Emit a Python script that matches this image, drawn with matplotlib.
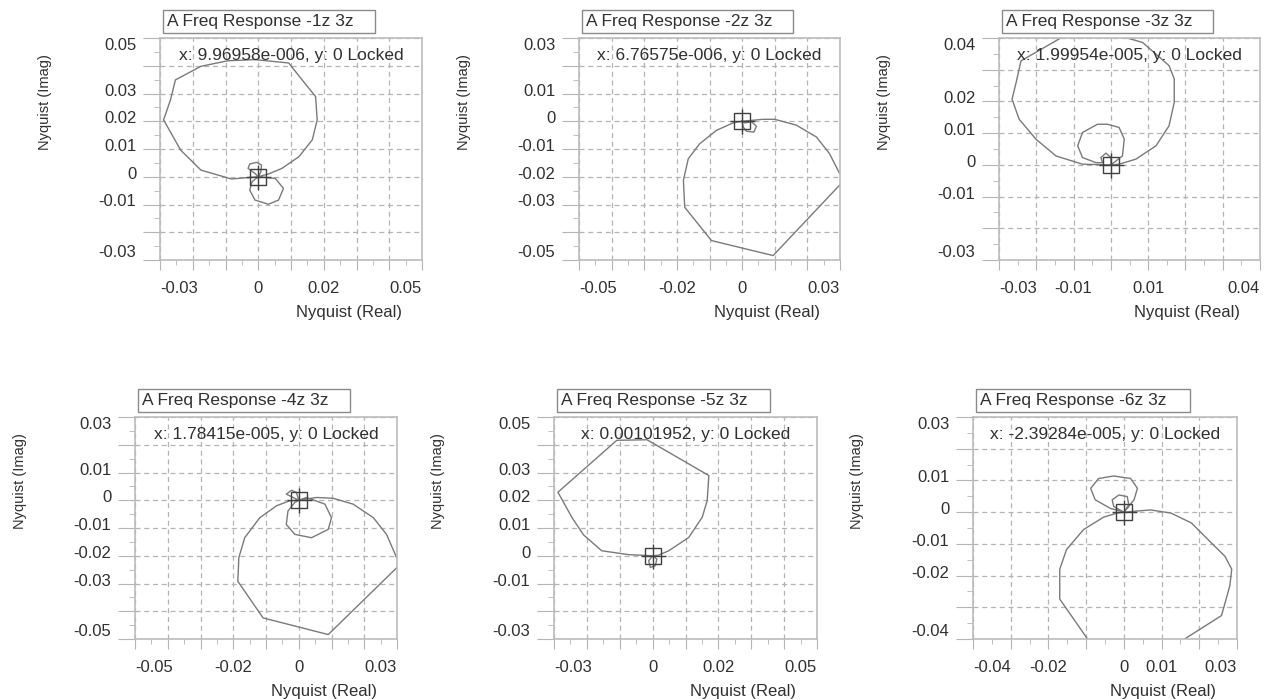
import numpy as np
import matplotlib
matplotlib.use("Agg")
import matplotlib.pyplot as plt
from matplotlib.patches import Rectangle
from matplotlib.ticker import FixedLocator, FixedFormatter, MultipleLocator
from matplotlib.transforms import ScaledTranslation

plt.rcParams["font.family"] = ["Liberation Sans", "DejaVu Sans"]

# Panel texts
titles = ["A Freq Response -1z 3z", "A Freq Response -2z 3z", "A Freq Response -3z 3z",
          "A Freq Response -4z 3z", "A Freq Response -5z 3z", "A Freq Response -6z 3z"]
cursor_texts = ["x: 9.96958e-006, y: 0 Locked", "x: 6.76575e-006, y: 0 Locked",
                "x: 1.99954e-005, y: 0 Locked", "x: 1.78415e-005, y: 0 Locked",
                "x: 0.00101952, y: 0 Locked", "x: -2.39284e-005, y: 0 Locked"]

# Axis ranges
xlims = [(-0.03, 0.05), (-0.05, 0.03), (-0.03, 0.04), (-0.05, 0.03), (-0.03, 0.05), (-0.04, 0.03)]
ylims = [(-0.03, 0.05), (-0.05, 0.03), (-0.03, 0.04), (-0.05, 0.03), (-0.03, 0.05), (-0.04, 0.03)]

# Labelled ticks
xtick_labels = [["-0.03", "0", "0.02", "0.05"], ["-0.05", "-0.02", "0", "0.03"],
                ["-0.03", "-0.01", "0.01", "0.04"], ["-0.05", "-0.02", "0", "0.03"],
                ["-0.03", "0", "0.02", "0.05"], ["-0.04", "-0.02", "0", "0.01", "0.03"]]
ytick_labels = [["0.05", "0.03", "0.02", "0.01", "0", "-0.01", "-0.03"],
                ["0.03", "0.01", "0", "-0.01", "-0.02", "-0.03", "-0.05"],
                ["0.04", "0.02", "0.01", "0", "-0.01", "-0.03"],
                ["0.03", "0.01", "0", "-0.01", "-0.02", "-0.03", "-0.05"],
                ["0.05", "0.03", "0.02", "0.01", "0", "-0.01", "-0.03"],
                ["0.03", "0.01", "0", "-0.01", "-0.02", "-0.04"]]

# Nyquist curves (real, imag)
re1 = [0, -0.0082, -0.0175, -0.0237, -0.0289, -0.0268, -0.0253, -0.0175, -0.0093, -0.001, 0.0093,
       0.0134, 0.0175, 0.018, 0.0165, 0.0124, 0.0072, 0.0031, 0, -0.001, -0.0031, -0.0026, -0.0005,
       0.001, 0.0008, 0, 0.0052, 0.0077, 0.0062, 0.0031, -0.001, -0.0026, -0.0019, 0]
im1 = [0, -0.0008, 0.0024, 0.0096, 0.0205, 0.0277, 0.0349, 0.0398, 0.0418, 0.0422, 0.041,
       0.0349, 0.0289, 0.0205, 0.0133, 0.0072, 0.003, 0.001, 0, 0.0012, 0.003, 0.0046, 0.0052,
       0.0042, 0.0018, 0, -0.0006, -0.0042, -0.0084, -0.0099, -0.0084, -0.0048, -0.0018, 0]

re2 = [0, 0.0064, 0.01, 0.0166, 0.0228, 0.0268, 0.0299, 0.0315, 0.0095, -0.0094, -0.0176, -0.018,
       -0.0165, -0.013, -0.0079, -0.0028, 0, 0.0008, 0.0029, 0.0044, 0.0036, 0.0013, 0.0003, 0]
im2 = [0, 0.0007, 0.0007, -0.0014, -0.0057, -0.0117, -0.0189, -0.021, -0.0484, -0.043, -0.031,
       -0.0213, -0.0135, -0.0081, -0.0033, -0.0006, 0, -0.0006, -0.0002, -0.0018, -0.0039, -0.0036,
       -0.002, 0]

re3 = [0, -0.0076, -0.0147, -0.0201, -0.0246, -0.0265, -0.0254, -0.0241, -0.0201, -0.009, 0.002,
       0.0085, 0.0156, 0.017, 0.017, 0.0156, 0.0121, 0.0067, 0.0022, 0, 0.0031, 0.0036, 0.0022,
       -0.0009, -0.0036, -0.0076, -0.0089, -0.0076, -0.004, -0.0022, -0.0027, -0.0013, 0, 0]
im3 = [0, 0.0002, 0.0028, 0.0081, 0.0144, 0.0207, 0.026, 0.0328, 0.0355, 0.043, 0.0408,
       0.0386, 0.0313, 0.0271, 0.0197, 0.0123, 0.006, 0.0018, 0.0002, 0, 0.0028, 0.0081, 0.0118,
       0.0128, 0.0128, 0.0102, 0.006, 0.0023, 0.0007, 0.0007, 0.0023, 0.0037, 0.0023, 0]

re4 = [0, 0.0054, 0.0105, 0.0166, 0.0228, 0.0268, 0.0299, 0.0315, 0.009, -0.0109, -0.0186, -0.0183,
       -0.0165, -0.0119, -0.0068, -0.0028, 0, 0.0023, 0.008, 0.01, 0.009, 0.0039, -0.0012, -0.0038,
       -0.0033, -0.0012, 0, -0.0038, -0.0022, -0.0007, 0]
im4 = [0, 0.001, 0.0007, -0.0014, -0.0063, -0.0123, -0.0207, -0.0225, -0.0484, -0.0424, -0.0292,
       -0.0207, -0.0135, -0.0063, -0.002, -0.0002, 0, 0.001, -0.0014, -0.0063, -0.0105, -0.0135,
       -0.0123, -0.0087, -0.0039, -0.0008, 0, 0.0022, 0.0036, 0.0028, 0]

re5 = [0, -0.0073, -0.0155, -0.021, -0.0246, -0.0288, -0.0109, -0.0017, 0.0171, 0.0166, 0.0151,
       0.011, 0.0049, 0.0018, 0, -0.0012, -0.0007, 0.0008, 0.0013, 0]
im5 = [0, 0.0004, 0.0018, 0.0075, 0.0139, 0.0229, 0.0416, 0.0418, 0.0289, 0.0199, 0.0139,
       0.0066, 0.0018, 0.0002, 0, -0.0018, -0.0042, -0.0036, -0.0012, 0]

re6 = [0, 0.0071, 0.0125, 0.0179, 0.0232, 0.0268, 0.0286, 0.0281, 0.0259, 0.0165, 0.0121, -0.0079,
       -0.0098, -0.017, -0.017, -0.0152, -0.0107, -0.0054, -0.0018, 0, -0.0036, -0.0076, -0.0088,
       -0.0067, -0.0027, 0.0018, 0.0036, 0.0027, 0.0009, 0, -0.0027, -0.0031, -0.0013, 0.0009,
       0.0013, 0]
im6 = [0, 0.0007, -0.0003, -0.0034, -0.0097, -0.0139, -0.018, -0.0232, -0.0326, -0.0397, -0.043,
       -0.043, -0.0397, -0.0274, -0.018, -0.0118, -0.0055, -0.0016, -0.0003, 0, 0.0012, 0.0039,
       0.0075, 0.0106, 0.0114, 0.0106, 0.0075, 0.0039, 0.0012, 0, 0.0018, 0.0039, 0.0054, 0.0049,
       0.0023, 0]

reals = [re1, re2, re3, re4, re5, re6]
imags = [im1, im2, im3, im4, im5, im6]

# panel rectangles in pixels (left, top, right, bottom)
W, H = 1268, 699
rects = [(160, 38, 422, 260), (579, 38, 840, 260), (999, 38, 1260, 260),
         (135, 417, 397, 639), (554, 417, 817, 639), (973, 417, 1237, 639)]

fig = plt.figure(figsize=(W / 100, H / 100), dpi=100)

text_col = "#303030"
grid_col = "#b4b4b4"
frame_col = "#bcbcbc"
line_col = "#7a7a7a"


def tickLabels(values, wanted):
    out = []
    for v in values:
        lab = ""
        for s in wanted:
            if abs(v - float(s)) < 1e-6:
                lab = s
        out.append(lab)
    return out


axes = []
for i in range(6):
    l, t, r, b = rects[i]
    ax = fig.add_axes([l / W, 1 - b / H, (r - l) / W, (b - t) / H])
    axes.append(ax)

    ax.plot(reals[i], imags[i], color=line_col, lw=1.0)
    # locked cursor marker
    ax.plot([0], [0], marker="s", ms=11, mfc="none", mec="#404040", mew=1.0)
    ax.plot([0], [0], marker="+", ms=18, mec="#404040", mew=1.0)

    ax.set_xlim(*xlims[i])
    ax.set_ylim(*ylims[i])

    xt = np.round(np.arange(xlims[i][0], xlims[i][1] + 1e-9, 0.01), 3)
    yt = np.round(np.arange(ylims[i][0], ylims[i][1] + 1e-9, 0.01), 3)
    ax.xaxis.set_major_locator(FixedLocator(xt))
    ax.xaxis.set_major_formatter(FixedFormatter(tickLabels(xt, xtick_labels[i])))
    ax.yaxis.set_major_locator(FixedLocator(yt))
    ax.yaxis.set_major_formatter(FixedFormatter(tickLabels(yt, ytick_labels[i])))
    ax.xaxis.set_minor_locator(MultipleLocator(0.005))
    ax.yaxis.set_minor_locator(MultipleLocator(0.005))

    ax.grid(True, which="major", color=grid_col, linestyle=(0, (4, 3)), lw=0.9)
    for sp in ax.spines.values():
        sp.set_color(frame_col)
        sp.set_linewidth(1.2)

    ax.tick_params(axis="x", which="major", length=7, color=grid_col, pad=8,
                   labelsize=12, labelcolor=text_col)
    ax.tick_params(axis="x", which="minor", length=3.5, color=grid_col)
    ax.tick_params(axis="y", which="major", length=12, color=grid_col, pad=5,
                   labelsize=12, labelcolor=text_col)
    ax.tick_params(axis="y", which="minor", length=4, color=grid_col)

    ax.set_xlabel("Nyquist (Real)", fontsize=12, color=text_col, va="center")
    ax.xaxis.set_label_coords(0.72, -0.235)
    ax.set_ylabel("Nyquist (Imag)", fontsize=10.5, color=text_col, va="center")
    ax.yaxis.set_label_coords(-0.44, 0.71)

    # title box
    ax.add_patch(Rectangle((0.011, 1.022), 0.81, 0.104, transform=ax.transAxes,
                           fill=False, ec="#8a8a8a", lw=1.0, clip_on=False))
    ax.text(0.027, 1.074, titles[i], transform=ax.transAxes, ha="left", va="center",
            fontsize=12.5, color=text_col)

    ax.text(0.5, 0.92, cursor_texts[i], transform=ax.transAxes, ha="center", va="center",
            fontsize=12.5, color=text_col)

fig.canvas.draw()

# end labels sit inside the axis limits, middle y labels sit a little above their gridline
for ax in axes:
    xlabs = ax.get_xticklabels()
    xlabs[0].set_ha("left")
    xlabs[-1].set_ha("right")
    ylabs = ax.get_yticklabels()
    for k, lab in enumerate(ylabs):
        if k == 0:
            lab.set_va("bottom")
        elif k == len(ylabs) - 1:
            lab.set_va("top")
        else:
            lab.set_transform(lab.get_transform() + ScaledTranslation(0, 0.04, fig.dpi_scale_trans))

fig.savefig("out.png", dpi=100)
